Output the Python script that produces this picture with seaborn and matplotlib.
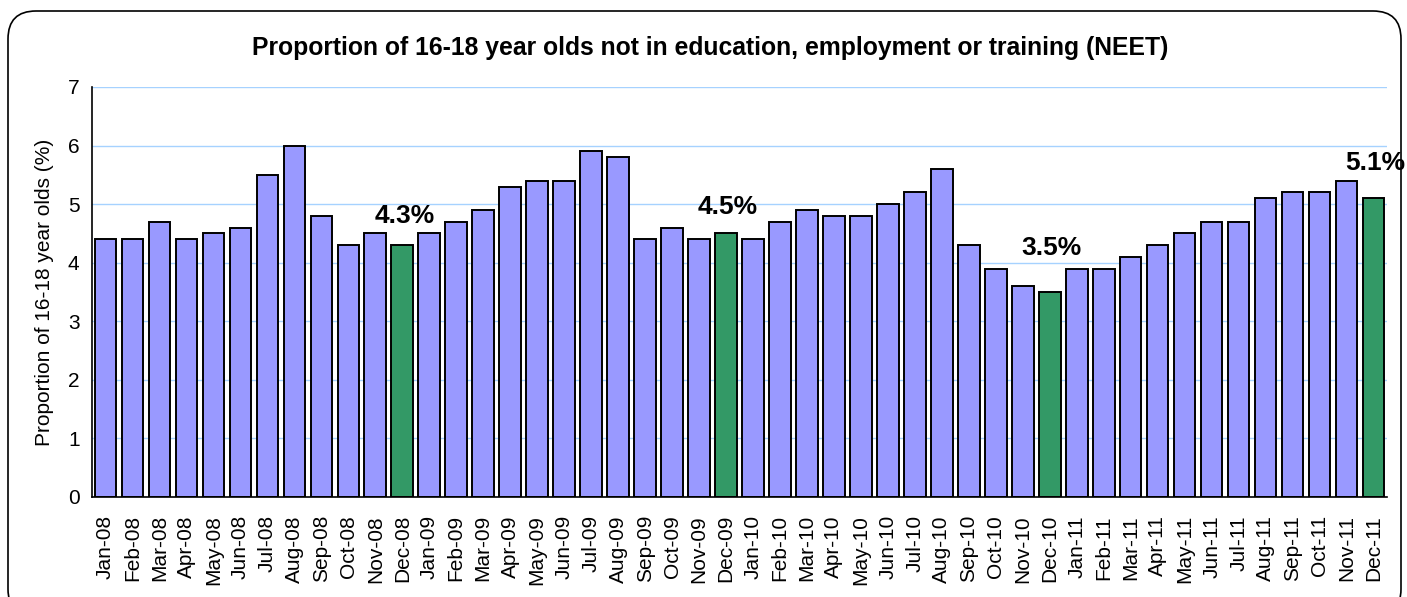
"""
Proporção de jovens de 16-18 anos NEET (jan-2008 a dez-2011).
Gráfico de barras mensais com destaque para os meses de dezembro.
"""

import matplotlib
matplotlib.use("Agg")
import matplotlib.pyplot as plt
from matplotlib.patches import FancyBboxPatch
import pandas as pd
import seaborn as sns

# Dados
meses = ["Jan", "Feb", "Mar", "Apr", "May", "Jun",
         "Jul", "Aug", "Sep", "Oct", "Nov", "Dec"]
anos = ["08", "09", "10", "11"]
rotulos = [f"{m}-{a}" for a in anos for m in meses]

neet_2008 = [4.4, 4.4, 4.7, 4.4, 4.5, 4.6, 5.5, 6.0, 4.8, 4.3, 4.5, 4.3]
neet_2009 = [4.5, 4.7, 4.9, 5.3, 5.4, 5.4, 5.9, 5.8, 4.4, 4.6, 4.4, 4.5]
neet_2010 = [4.4, 4.7, 4.9, 4.8, 4.8, 5.0, 5.2, 5.6, 4.3, 3.9, 3.6, 3.5]
neet_2011 = [3.9, 3.9, 4.1, 4.3, 4.5, 4.7, 4.7, 5.1, 5.2, 5.2, 5.4, 5.1]
valores = neet_2008 + neet_2009 + neet_2010 + neet_2011

# Deslocamento vertical dos rótulos de dezembro (em unidades do eixo y)
desloc_rotulo = {"Dec-08": 0.5, "Dec-09": 0.45, "Dec-10": 0.75, "Dec-11": 0.6}

df = pd.DataFrame({"mes": rotulos, "valor": valores})
df["dezembro"] = df["mes"].str.startswith("Dec")

sns.set_theme(style="white")
plt.rcParams["font.family"] = ["Liberation Sans", "DejaVu Sans"]
plt.rcParams["text.color"] = "black"
plt.rcParams["axes.labelcolor"] = "black"
plt.rcParams["xtick.color"] = "black"
plt.rcParams["ytick.color"] = "black"

fig = plt.figure(figsize=(14.07, 5.97), dpi=100)
ax = fig.add_axes([92 / 1407, 1 - 497 / 597, (1387 - 92) / 1407, (497 - 87) / 597])

sns.barplot(data=df, x="mes", y="valor", hue="dezembro",
            palette={False: "#9999FF", True: "#339966"},
            dodge=False, legend=False, width=0.8,
            edgecolor="black", linewidth=1.4, saturation=1, ax=ax)

ax.set_xlim(-0.5, len(rotulos) - 0.5)
ax.set_ylim(0, 7)
ax.set_yticks(range(0, 8))
ax.yaxis.grid(True, color="#A6D2FF", linewidth=1)
ax.set_axisbelow(True)

# marcas do eixo x entre as categorias, rótulos no centro das barras
ax.set_xticks([i - 0.5 for i in range(len(rotulos) + 1)])
ax.set_xticklabels([])
ax.set_xticks(range(len(rotulos)), minor=True)
ax.set_xticklabels(rotulos, minor=True, rotation=90, fontsize=15)
ax.tick_params(axis="x", which="major", length=6, width=1, direction="out")
ax.tick_params(axis="x", which="minor", length=0, pad=13)
ax.tick_params(axis="y", length=5, width=1, direction="out", labelsize=15, pad=4)

for lado in ["top", "right"]:
    ax.spines[lado].set_visible(False)
for lado in ["left", "bottom"]:
    ax.spines[lado].set_color("black")
    ax.spines[lado].set_linewidth(1.2)

ax.set_xlabel("")
ax.set_ylabel("Proportion of 16-18 year olds (%)", fontsize=15, labelpad=10)

# rótulos dos meses de dezembro
for i, (mes, v) in enumerate(zip(rotulos, valores)):
    if mes in desloc_rotulo:
        ax.text(i + 0.08, v + desloc_rotulo[mes], f"{v:.1f}%", ha="center", va="center",
                fontsize=19, fontweight="bold")

fig.text(710 / 1407, 1 - 48 / 597,
         "Proportion of 16-18 year olds not in education, employment or training (NEET)",
         ha="center", va="center", fontsize=17.8, fontweight="bold")

# moldura arredondada
moldura = FancyBboxPatch((8, -20), 1393, 606, boxstyle="round,pad=0,rounding_size=28",
                         transform=None, facecolor="none", edgecolor="black",
                         linewidth=1.2, zorder=-1)
fig.patches.append(moldura)

fig.savefig("out.png", dpi=100)
